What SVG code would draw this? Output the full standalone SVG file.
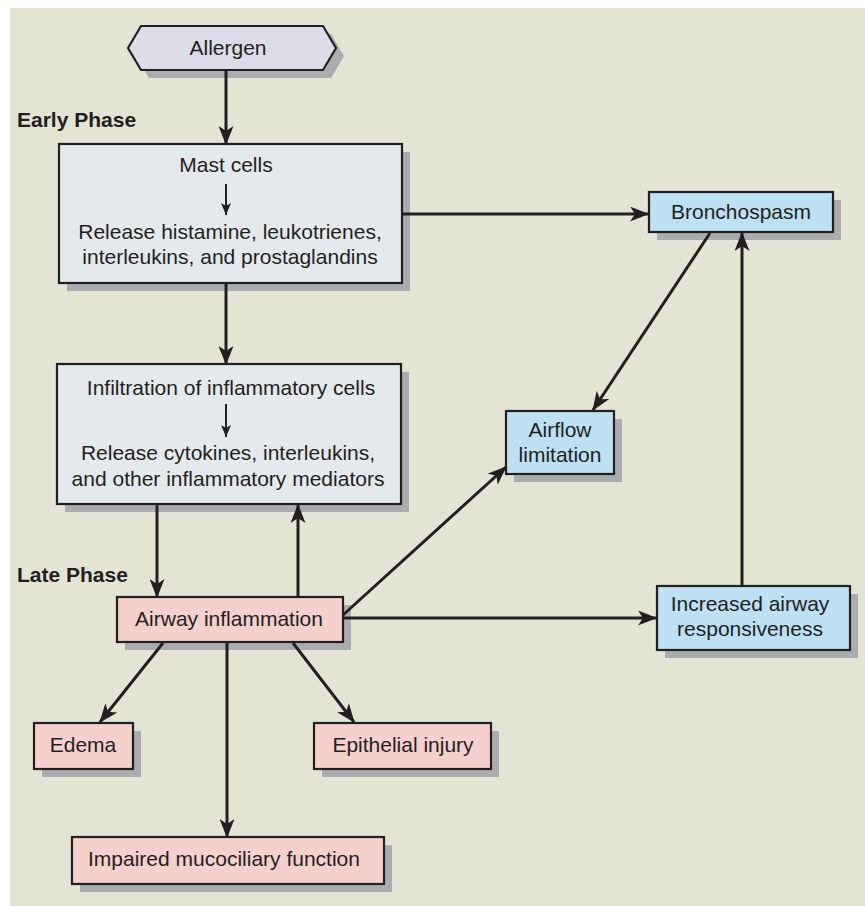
<svg xmlns="http://www.w3.org/2000/svg" width="865" height="906" viewBox="0 0 865 906">
<defs>
<style>
.t{font-family:"Liberation Sans",Arial,sans-serif;font-size:21px;fill:#231f20;text-anchor:middle}
.h{font-family:"Liberation Sans",Arial,sans-serif;font-size:21px;font-weight:bold;fill:#231f20}
.box{stroke:#231f20;stroke-width:2.2}
.sh{fill:#abacb0}
.gray{fill:#e4e9ed}
.blue{fill:#bde0f3}
.pink{fill:#f6d0cd}
.lav{fill:#dcdbe8}
.c{fill:none;stroke:#231f20;stroke-width:3}
.cs{fill:none;stroke:#231f20;stroke-width:2}
</style>
<marker id="ah" viewBox="0 0 19 15" refX="18" refY="7.5" markerWidth="19" markerHeight="15" markerUnits="userSpaceOnUse" orient="auto">
<path d="M0,0 L19,7.5 L0,15 L5,7.5 Z" fill="#231f20"/>
</marker>
<marker id="as" viewBox="0 0 12 10" refX="12" refY="5" markerWidth="12" markerHeight="10" markerUnits="userSpaceOnUse" orient="auto">
<path d="M0,0 L12,5 L0,10 L3,5 Z" fill="#231f20"/>
</marker>
</defs>
<rect x="10" y="8" width="855" height="898" fill="#e4e4d4"/>
<text class="h" x="17" y="127">Early Phase</text>
<text class="h" x="17" y="582">Late Phase</text>
<g id="allergen">
<polygon class="sh" points="136,56 149,34 331,34 344,56 331,78 149,78"/>
<polygon class="box lav" points="128,48 141,26 323,26 336,48 323,70 141,70"/>
<text class="t" x="228" y="55">Allergen</text>
</g>
<g id="mast">
<rect class="sh" x="67" y="152" width="343" height="139"/>
<rect class="box gray" x="59" y="144" width="343" height="139"/>
<text class="t" x="226" y="172">Mast cells</text>
<path class="cs" d="M226,184 V215" marker-end="url(#as)"/>
<text class="t" x="230" y="239">Release histamine, leukotrienes,</text>
<text class="t" x="230" y="264">interleukins, and prostaglandins</text>
</g>
<g id="infiltration">
<rect class="sh" x="65" y="372" width="344" height="140"/>
<rect class="box gray" x="57" y="364" width="344" height="140"/>
<text class="t" x="231" y="395">Infiltration of inflammatory cells</text>
<path class="cs" d="M226,404 V437" marker-end="url(#as)"/>
<text class="t" x="228" y="460">Release cytokines, interleukins,</text>
<text class="t" x="228" y="486">and other inflammatory mediators</text>
</g>
<g id="bronchospasm">
<rect class="sh" x="657" y="200" width="184" height="40"/>
<rect class="box blue" x="649" y="192" width="184" height="40"/>
<text class="t" x="741" y="219">Bronchospasm</text>
</g>
<g id="airflow">
<rect class="sh" x="514" y="419" width="108" height="63"/>
<rect class="box blue" x="506" y="411" width="108" height="63"/>
<text class="t" x="560" y="437">Airflow</text>
<text class="t" x="560" y="462">limitation</text>
</g>
<g id="increased">
<rect class="sh" x="665" y="594" width="193" height="64"/>
<rect class="box blue" x="657" y="586" width="193" height="64"/>
<text class="t" x="750" y="611">Increased airway</text>
<text class="t" x="750" y="636">responsiveness</text>
</g>
<g id="airway">
<rect class="sh" x="125" y="605" width="226" height="45"/>
<rect class="box pink" x="117" y="597" width="226" height="45"/>
<text class="t" x="229" y="626">Airway inflammation</text>
</g>
<g id="edema">
<rect class="sh" x="42" y="731" width="99" height="46"/>
<rect class="box pink" x="34" y="723" width="99" height="46"/>
<text class="t" x="83" y="752">Edema</text>
</g>
<g id="epithelial">
<rect class="sh" x="322" y="731" width="177" height="46"/>
<rect class="box pink" x="314" y="723" width="177" height="46"/>
<text class="t" x="403" y="752">Epithelial injury</text>
</g>
<g id="impaired">
<rect class="sh" x="80" y="845" width="312" height="47"/>
<rect class="box pink" x="72" y="837" width="312" height="47"/>
<text class="t" x="224" y="866">Impaired mucociliary function</text>
</g>
<g id="connectors">
<path class="c" d="M226,71 V144" marker-end="url(#ah)"/>
<path class="c" d="M403,214 H648" marker-end="url(#ah)"/>
<path class="c" d="M226,284 V364" marker-end="url(#ah)"/>
<path class="c" d="M710,233 L593,410" marker-end="url(#ah)"/>
<path class="c" d="M742,585 V233" marker-end="url(#ah)"/>
<path class="c" d="M157,505 V597" marker-end="url(#ah)"/>
<path class="c" d="M298,596 V505" marker-end="url(#ah)"/>
<path class="c" d="M343,615 L506,467" marker-end="url(#ah)"/>
<path class="c" d="M344,618 H656" marker-end="url(#ah)"/>
<path class="c" d="M163,643 L100,722" marker-end="url(#ah)"/>
<path class="c" d="M293,643 L354,722" marker-end="url(#ah)"/>
<path class="c" d="M227,643 V837" marker-end="url(#ah)"/>
</g>
</svg>
